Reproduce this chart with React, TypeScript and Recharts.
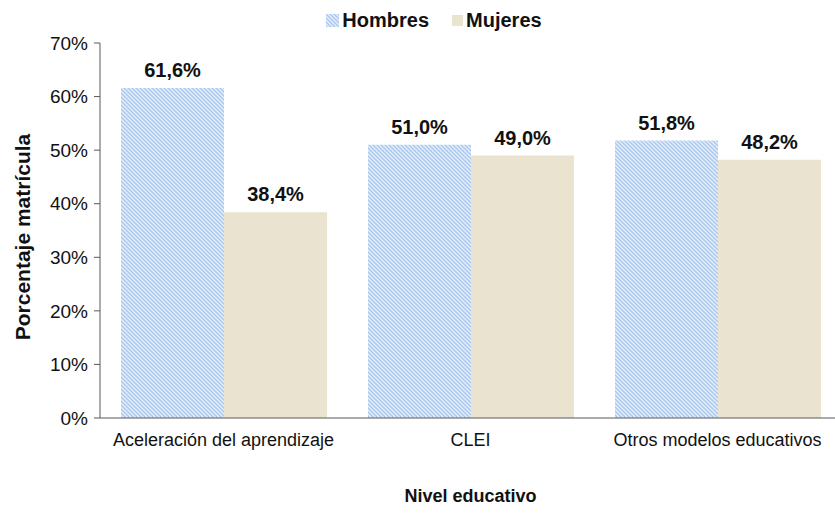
import { Bar, BarChart, XAxis, YAxis, Legend, LabelList, Label } from "recharts"

const categories = ["Aceleración del aprendizaje", "CLEI", "Otros modelos educativos"]
const hombres = [61.6, 51.0, 51.8]
const mujeres = [38.4, 49.0, 48.2]
const yTicks = [0, 10, 20, 30, 40, 50, 60, 70]

const data = categories.map((nivel, i) => ({
  nivel,
  hombres: hombres[i],
  mujeres: mujeres[i],
}))

const FONT = '"Liberation Sans", Arial, sans-serif'
const HOMBRES_FILL = "url(#hatchHombres)"
const MUJERES_FILL = "#e9e3cf"

const fmt = (v: number) => `${v.toFixed(1).replace(".", ",")}%`

function LegendContent() {
  const item = (fill: string, text: string, size: number) => (
    <div style={{ display: "flex", alignItems: "center", marginRight: 23 }}>
      <svg width={size} height={size} style={{ marginRight: 3 }}>
        <rect width={size} height={size} fill={fill} />
      </svg>
      <span style={{ fontWeight: "bold", fontSize: 20, color: "#111", lineHeight: "24px" }}>{text}</span>
    </div>
  )
  return (
    <div style={{ display: "flex", justifyContent: "center", fontFamily: FONT, paddingLeft: 56 }}>
      {item(HOMBRES_FILL, "Hombres", 13)}
      {item(MUJERES_FILL, "Mujeres", 11)}
    </div>
  )
}

export default function App() {
  return (
    <div style={{ position: "absolute", left: 0, top: 0, background: "#fff" }}>
      <BarChart
        width={835}
        height={514}
        data={data}
        margin={{ top: 19, right: -6, left: 0, bottom: 0 }}
        barCategoryGap={21}
        barGap={0}
        style={{ fontFamily: FONT }}
      >
        <defs>
          <pattern id="hatchHombres" patternUnits="userSpaceOnUse" width={4} height={4}>
            <rect width={4} height={4} fill="#e4eefb" />
            <path d="M-1,-1 L5,5 M-1,3 L1,5 M3,-1 L5,1" stroke="#a8c6ec" strokeWidth={1.3} />
          </pattern>
        </defs>
        <Legend
          verticalAlign="top"
          content={<LegendContent />}
          wrapperStyle={{ top: 8, left: 0, width: 835 }}
        />
        <XAxis
          dataKey="nivel"
          height={96}
          tickLine={false}
          axisLine={{ stroke: "#595959" }}
          tick={{ fill: "#111", fontSize: 18 }}
          tickMargin={9}
          interval={0}
        >
          <Label
            value="Nivel educativo"
            position="insideBottom"
            offset={12}
            style={{ fontWeight: "bold", fontSize: 18, fill: "#111" }}
          />
        </XAxis>
        <YAxis
          width={100}
          domain={[0, 70]}
          ticks={yTicks}
          tickFormatter={(v) => `${v}%`}
          axisLine={{ stroke: "#595959" }}
          tickLine={{ stroke: "#595959" }}
          tickSize={6}
          tick={{ fill: "#111", fontSize: 19 }}
          tickMargin={6}
        >
          <Label
            content={({ viewBox }: any) => {
              const cx = 22
              const cy = 237
              return (
                <text
                  x={cx}
                  y={cy}
                  transform={`rotate(-90 ${cx} ${cy})`}
                  textAnchor="middle"
                  dominantBaseline="central"
                  style={{ fontWeight: "bold", fontSize: 21, fill: "#111", fontFamily: FONT }}
                >
                  Porcentaje matrícula
                </text>
              )
            }}
          />
        </YAxis>
        <Bar dataKey="hombres" name="Hombres" fill={HOMBRES_FILL} isAnimationActive={false}>
          <LabelList
            dataKey="hombres"
            position="top"
            offset={11}
            formatter={(v: any) => fmt(Number(v))}
            style={{ fontWeight: "bold", fontSize: 20, fill: "#111" }}
          />
        </Bar>
        <Bar dataKey="mujeres" name="Mujeres" fill={MUJERES_FILL} isAnimationActive={false}>
          <LabelList
            dataKey="mujeres"
            position="top"
            offset={11}
            formatter={(v: any) => fmt(Number(v))}
            style={{ fontWeight: "bold", fontSize: 20, fill: "#111" }}
          />
        </Bar>
      </BarChart>
    </div>
  )
}
